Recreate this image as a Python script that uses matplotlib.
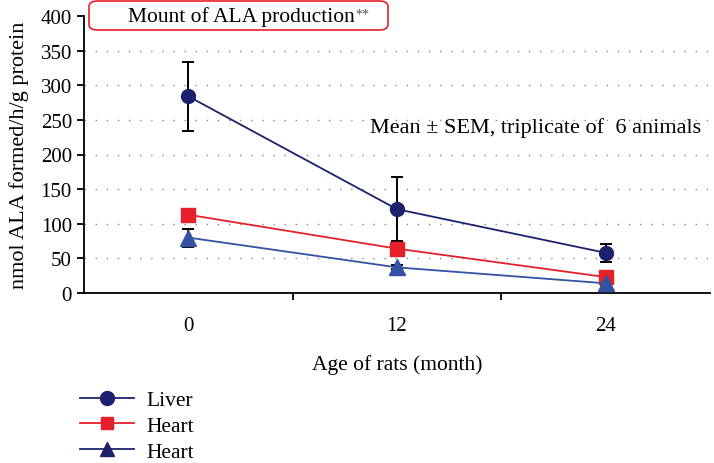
import matplotlib
matplotlib.use("Agg")
import matplotlib.pyplot as plt
from matplotlib.lines import Line2D
from matplotlib.patches import FancyBboxPatch

plt.rcParams['font.family'] = ['Liberation Serif', 'DejaVu Serif']

months = [0, 12, 24]
liver = [284, 121, 58]
liver_err = [50, 46, 13]
heart_red = [113, 64, 23]
heart_red_err = [0, 7, 0]
heart_blue = [80, 37, 14]
heart_blue_err = [13, 3, 2]
legend_labels = ["Liver", "Heart", "Heart"]
yticks = [0, 50, 100, 150, 200, 250, 300, 350, 400]

navy = "#1c216e"
red = "#e6202a"
blue = "#3352a3"

fig = plt.figure(figsize=(7.14, 4.64), dpi=100)
ax = fig.add_axes([84/714, 1-294/464, (710-84)/714, (294-17)/464])

for y in yticks[1:-1]:
    ax.axhline(y, color="#888888", lw=1.0, ls=(0, (1, 7)), zorder=0)

ek = dict(fmt='none', ecolor='black', elinewidth=1.4, capsize=4.5, capthick=1.4, zorder=2)
ax.errorbar(months, liver, yerr=liver_err, **ek)
ax.errorbar(months, heart_red, yerr=heart_red_err, **ek)
ax.errorbar(months, heart_blue, yerr=heart_blue_err, **ek)

ax.plot(months, liver, color=navy, lw=1.3, marker='o', ms=10, zorder=3)
ax.plot(months, heart_red, color=red, lw=1.3, marker='s', ms=9.5, zorder=3)
ax.plot(months, heart_blue, color=blue, lw=1.3, marker='^', ms=11, zorder=4)

ax.set_xlim(-6, 30)
ax.set_ylim(0, 400)
ax.set_yticks(yticks)
ax.set_xticks([6, 18])
ax.set_xticklabels([])
for m in months:
    ax.text(m, -0.083, str(m), transform=ax.get_xaxis_transform(), ha='center', va='top', fontsize=15)
ax.tick_params(axis='both', direction='out', length=5.2, width=1.3, labelsize=15)
ax.tick_params(axis='y', pad=3.5)
for s in ['top', 'right']:
    ax.spines[s].set_visible(False)
for s in ['left', 'bottom']:
    ax.spines[s].set_linewidth(1.3)

ax.set_ylabel("nmol ALA formed/h/g protein", fontsize=16, labelpad=8)
ax.set_xlabel("Age of rats (month)", fontsize=15.5, labelpad=35)

# title box
box = FancyBboxPatch((89/714, 1-31/464), (388-89)/714, 29/464, boxstyle="round,pad=0,rounding_size=0.012",
                     transform=fig.transFigure, facecolor='white', edgecolor=red, lw=1.2, zorder=5)
fig.patches.append(box)
t = fig.text(128/714, 1-17/464, "Mount of ALA production", ha='left', va='center', fontsize=15.5, zorder=6)
renderer = fig.canvas.get_renderer()
bb = t.get_window_extent(renderer=renderer)
fig.text((bb.x1 + 1) / fig.bbox.width, (bb.y1 - 1) / fig.bbox.height, "**", ha='left', va='top',
         fontsize=10, color='#555555', zorder=7)

fig.text(370/714, 1-128/464, "Mean ± SEM, triplicate of  6 animals", ha='left', va='center', fontsize=16)

handles = [Line2D([], [], color=navy, marker='o', ms=10, lw=1.3),
           Line2D([], [], color=red, marker='s', ms=9, lw=1.3),
           Line2D([], [], color=navy, marker='^', ms=10, lw=1.3)]
fig.legend(handles, legend_labels, loc='upper left', bbox_to_anchor=(80/714, 1-391/464), frameon=False,
           fontsize=15.5, handlelength=2.5, labelspacing=0.27, handletextpad=0.6, borderaxespad=0, borderpad=0)

fig.savefig("out.png", dpi=100)
